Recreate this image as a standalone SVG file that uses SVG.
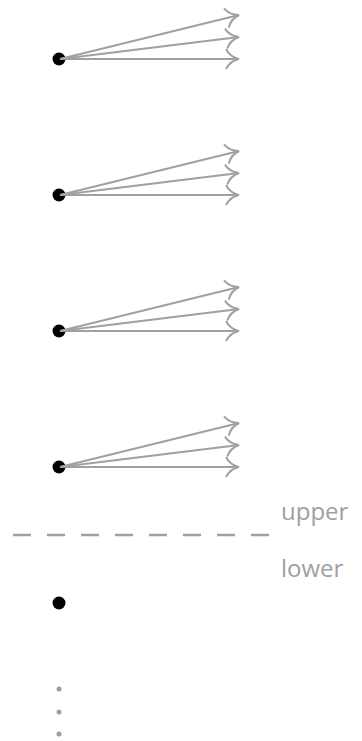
<svg xmlns="http://www.w3.org/2000/svg" width="362" height="741" viewBox="0 0 362 741">
<style>
.arr{stroke:#a0a0a0;stroke-width:2;fill:none;marker-end:url(#ah)}
.dot{fill:#000}
.sdot{fill:#9aa0a6}
.lbl{font-family:"Open Sans","Noto Sans",sans-serif;font-size:24px;fill:#a0a0a0}
</style>
<defs>
<marker id="ah" markerUnits="userSpaceOnUse" viewBox="-16 -12 18 24" refX="0" refY="0" markerWidth="18" markerHeight="24" orient="auto">
<path d="M-13,-10 Q-9,-2 0,0 Q-9,2 -13,10" fill="none" stroke="#a0a0a0" stroke-width="2"/>
</marker>
</defs>
<rect width="362" height="741" fill="#fff"/>
<g id="node1"><circle class="dot" cx="59" cy="59" r="6.5"/></g>
<g id="node2"><circle class="dot" cx="59" cy="195" r="6.5"/></g>
<g id="node3"><circle class="dot" cx="59" cy="331" r="6.5"/></g>
<g id="node4"><circle class="dot" cx="59" cy="467" r="6.5"/></g>
<g id="node5"><circle class="dot" cx="59" cy="603" r="6.5"/></g>
<g id="connectors">
<path class="arr" d="M60,59 L239,59"/><path class="arr" d="M60,59 L239,37"/><path class="arr" d="M60,59 L239,15"/>
<path class="arr" d="M60,195 L239,195"/><path class="arr" d="M60,195 L239,173"/><path class="arr" d="M60,195 L239,151"/>
<path class="arr" d="M60,331 L239,331"/><path class="arr" d="M60,331 L239,309"/><path class="arr" d="M60,331 L239,287"/>
<path class="arr" d="M60,467 L239,467"/><path class="arr" d="M60,467 L239,445"/><path class="arr" d="M60,467 L239,423"/>
</g>
<g id="divider">
<line x1="13" y1="535" x2="270" y2="535" stroke="#a0a0a0" stroke-width="2.5" stroke-dasharray="18 16"/>
<text class="lbl" x="281" y="520">upper</text>
<text class="lbl" x="281" y="577">lower</text>
</g>
<g id="ellipsis">
<circle class="sdot" cx="59" cy="689" r="2.5"/>
<circle class="sdot" cx="59" cy="712" r="2.5"/>
<circle class="sdot" cx="59" cy="734" r="2.5"/>
</g>
</svg>
